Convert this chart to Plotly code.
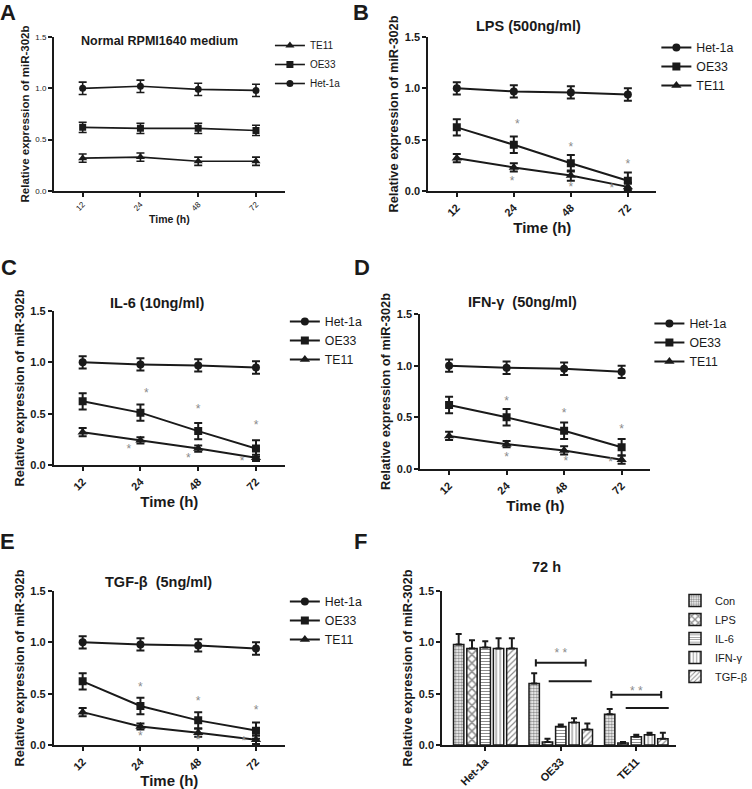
import plotly.graph_objects as go

W, H = 752, 789
FONT = "Arial, Liberation Sans, Helvetica, sans-serif"

# ---------------- data ----------------
times = ["12", "24", "48", "72"]
x_idx = [0, 1, 2, 3]
lines_names = ["Het-1a", "OE33", "TE11"]

# Panel A: Normal RPMI1640 medium
a_het = [1.00, 1.02, 0.99, 0.98]
a_het_err = [0.06, 0.06, 0.06, 0.06]
a_oe = [0.62, 0.61, 0.61, 0.59]
a_oe_err = [0.05, 0.05, 0.05, 0.05]
a_te = [0.32, 0.33, 0.29, 0.29]
a_te_err = [0.04, 0.04, 0.04, 0.04]

# Panel B: LPS
b_het = [1.00, 0.97, 0.96, 0.94]
b_het_err = [0.06, 0.06, 0.06, 0.06]
b_oe = [0.62, 0.45, 0.27, 0.10]
b_oe_err = [0.08, 0.08, 0.08, 0.08]
b_te = [0.32, 0.23, 0.15, 0.04]
b_te_err = [0.04, 0.04, 0.05, 0.04]
b_star_x = [1.06, 2.0, 3.0, 0.97, 2.0, 2.72]
b_star_y = [0.645, 0.42, 0.25, 0.09, 0.03, 0.02]

# Panel C: IL-6
c_het = [1.00, 0.98, 0.97, 0.95]
c_het_err = [0.06, 0.06, 0.06, 0.06]
c_oe = [0.62, 0.51, 0.33, 0.16]
c_oe_err = [0.08, 0.08, 0.08, 0.08]
c_te = [0.32, 0.24, 0.16, 0.07]
c_te_err = [0.04, 0.03, 0.03, 0.03]
c_star_x = [1.1, 2.0, 3.0, 0.8, 1.83, 2.76]
c_star_y = [0.69, 0.54, 0.38, 0.15, 0.055, 0.03]

# Panel D: IFN-gamma
d_het = [1.00, 0.98, 0.97, 0.94]
d_het_err = [0.06, 0.06, 0.06, 0.06]
d_oe = [0.62, 0.50, 0.37, 0.21]
d_oe_err = [0.08, 0.08, 0.08, 0.08]
d_te = [0.32, 0.24, 0.18, 0.09]
d_te_err = [0.04, 0.03, 0.04, 0.04]
d_star_x = [1.0, 2.0, 3.0, 1.0, 2.03, 2.81]
d_star_y = [0.65, 0.53, 0.38, 0.11, 0.07, 0.06]

# Panel E: TGF-beta
e_het = [1.00, 0.98, 0.97, 0.94]
e_het_err = [0.06, 0.06, 0.06, 0.06]
e_oe = [0.62, 0.38, 0.24, 0.14]
e_oe_err = [0.08, 0.08, 0.08, 0.08]
e_te = [0.32, 0.18, 0.12, 0.05]
e_te_err = [0.04, 0.03, 0.04, 0.04]
e_star_x = [1.0, 2.0, 3.0, 1.0, 2.0, 2.79]
e_star_y = [0.56, 0.42, 0.33, 0.075, 0.04, 0.03]

# Panel F: 72 h bars
groups = ["Het-1a", "OE33", "TE11"]
treatments = ["Con", "LPS", "IL-6", "IFN-γ", "TGF-β"]
f_con = [0.98, 0.60, 0.30]
f_con_err = [0.10, 0.10, 0.05]
f_lps = [0.94, 0.03, 0.02]
f_lps_err = [0.08, 0.03, 0.01]
f_il6 = [0.95, 0.18, 0.08]
f_il6_err = [0.06, 0.02, 0.02]
f_ifn = [0.94, 0.22, 0.10]
f_ifn_err = [0.10, 0.04, 0.02]
f_tgf = [0.94, 0.15, 0.06]
f_tgf_err = [0.10, 0.06, 0.06]
# significance brackets (x in category units)
br_x0 = [0.67, 1.67]
br_x1 = [1.33, 2.33]
br_y = [0.80, 0.49]
ln_x0 = [0.84, 1.86]
ln_x1 = [1.41, 2.43]
ln_y = [0.62, 0.36]
sig_groups = ["OE33", "TE11"]
sig_y = [0.89, 0.52]

y_ticks = [0, 0.5, 1.0, 1.5]
y_ticktext = ["0.0", "0.5", "1.0", "1.5"]

# ---------------- layout helpers ----------------
def dx(l, r):
    return [l / W, r / W]


def dy(top, bottom):
    return [1 - bottom / H, 1 - top / H]


panels = {
    1: dict(x=dx(54, 286), y=dy(37, 191)),
    2: dict(x=dx(430, 659), y=dy(37, 191)),
    3: dict(x=dx(54, 286), y=dy(311, 465)),
    4: dict(x=dx(422, 653), y=dy(314, 469)),
    5: dict(x=dx(54, 286), y=dy(591, 745)),
    6: dict(x=dx(444, 679), y=dy(591, 745)),
}

fig = go.Figure()

symbols = {"Het-1a": "circle", "OE33": "square", "TE11": "triangle-up"}
msize = {"Het-1a": 8, "OE33": 8, "TE11": 9}


def add_line_panel(i, data, order, small=False, stars=None):
    xa = "x" if i == 1 else f"x{i}"
    ya = "y" if i == 1 else f"y{i}"
    lg = "legend" if i == 1 else f"legend{i}"
    for name in order:
        vals, errs = data[name]
        fig.add_trace(go.Scatter(
            x=x_idx, y=vals, name=name, mode="lines+markers",
            xaxis=xa, yaxis=ya, legend=lg,
            line=dict(color="#1a1a1a", width=1.6 if small else 2),
            marker=dict(symbol=symbols[name], size=msize[name] - (1 if small else 0),
                        color="#1a1a1a"),
            error_y=dict(type="data", array=errs, visible=True, color="#1a1a1a",
                         thickness=1.6 if small else 2, width=4),
        ))
    if stars is not None:
        sx, sy = stars
        fig.add_trace(go.Scatter(
            x=sx, y=sy, mode="text", text=["*"] * len(sx), showlegend=False,
            xaxis=xa, yaxis=ya, hoverinfo="skip",
            textfont=dict(color="#8a8a8a", size=12, family=FONT),
        ))


add_line_panel(1, {"Het-1a": (a_het, a_het_err), "OE33": (a_oe, a_oe_err),
                   "TE11": (a_te, a_te_err)}, ["TE11", "OE33", "Het-1a"], small=True)
add_line_panel(2, {"Het-1a": (b_het, b_het_err), "OE33": (b_oe, b_oe_err),
                   "TE11": (b_te, b_te_err)}, lines_names, stars=(b_star_x, b_star_y))
add_line_panel(3, {"Het-1a": (c_het, c_het_err), "OE33": (c_oe, c_oe_err),
                   "TE11": (c_te, c_te_err)}, lines_names, stars=(c_star_x, c_star_y))
add_line_panel(4, {"Het-1a": (d_het, d_het_err), "OE33": (d_oe, d_oe_err),
                   "TE11": (d_te, d_te_err)}, lines_names, stars=(d_star_x, d_star_y))
add_line_panel(5, {"Het-1a": (e_het, e_het_err), "OE33": (e_oe, e_oe_err),
                   "TE11": (e_te, e_te_err)}, lines_names, stars=(e_star_x, e_star_y))

# Panel F bars
bar_data = [(f_con, f_con_err), (f_lps, f_lps_err), (f_il6, f_il6_err),
            (f_ifn, f_ifn_err), (f_tgf, f_tgf_err)]
patterns = [dict(shape=".", size=3, solidity=0.5),
            dict(shape="x", size=6, solidity=0.45),
            dict(shape="-", size=3, solidity=0.35),
            dict(shape="|", size=4, solidity=0.3),
            dict(shape="/", size=4, solidity=0.3)]
for tname, (vals, errs), pat in zip(treatments, bar_data, patterns):
    fig.add_trace(go.Bar(
        x=groups, y=vals, name=tname, xaxis="x6", yaxis="y6", legend="legend6",
        marker=dict(color="white", line=dict(color="#1a1a1a", width=1.5),
                    pattern=dict(fgcolor="#1a1a1a", bgcolor="white", **pat)),
        error_y=dict(type="data", array=errs, arrayminus=[0] * len(errs), symmetric=False,
                     visible=True, color="#1a1a1a", thickness=2, width=3),
    ))

for x0, x1, yv in zip(br_x0, br_x1, br_y):
    fig.add_shape(type="line", x0=x0, x1=x1, y0=yv, y1=yv, xref="x6", yref="y6",
                  line=dict(color="#1a1a1a", width=2))
    for xe in (x0, x1):
        fig.add_shape(type="line", x0=xe, x1=xe, y0=yv - 0.035, y1=yv + 0.035,
                      xref="x6", yref="y6", line=dict(color="#1a1a1a", width=2))
for x0, x1, yv in zip(ln_x0, ln_x1, ln_y):
    fig.add_shape(type="line", x0=x0, x1=x1, y0=yv, y1=yv, xref="x6", yref="y6",
                  line=dict(color="#1a1a1a", width=2))
fig.add_trace(go.Scatter(x=sig_groups, y=sig_y, mode="text", text=["* *"] * len(sig_groups),
                         showlegend=False, xaxis="x6", yaxis="y6", hoverinfo="skip",
                         textfont=dict(color="#8a8a8a", size=12, family=FONT)))

# ---------------- axes ----------------
layout = dict(
    width=W, height=H, margin=dict(l=0, r=0, t=0, b=0),
    paper_bgcolor="white", plot_bgcolor="white",
    font=dict(family=FONT, color="#1a1a1a"),
    barmode="group", bargap=0.12, bargroupgap=0.22,
)

for i, p in panels.items():
    small = (i == 1)
    xk = "xaxis" if i == 1 else f"xaxis{i}"
    yk = "yaxis" if i == 1 else f"yaxis{i}"
    anchor_x = "x" if i == 1 else f"x{i}"
    anchor_y = "y" if i == 1 else f"y{i}"
    tickfont = dict(size=8 if small else 11, family=FONT, color="#1a1a1a",
                    weight="normal" if small else "bold")
    common = dict(showline=True, linecolor="#1a1a1a", linewidth=1.5 if small else 2,
                  ticks="outside", ticklen=4, tickwidth=1.5, tickcolor="#1a1a1a",
                  showgrid=False, zeroline=False, automargin=False,
                  fixedrange=True)
    if i == 6:
        xax = dict(domain=p["x"], anchor=anchor_y, range=[-0.57, 2.53], type="category",
                   tickangle=-45, tickfont=dict(tickfont, size=11), **common)
    else:
        xax = dict(domain=p["x"], anchor=anchor_y, range=[-0.5, 3.5], tickvals=x_idx,
                   ticktext=times, tickangle=-45, tickfont=tickfont,
                   title=dict(text="<b>Time (h)</b>",
                              font=dict(size=10.5 if small else 15, family=FONT),
                              standoff=4),
                   **common)
    yax = dict(domain=p["y"], anchor=anchor_x, range=[0, 1.5], tickvals=y_ticks,
               ticktext=y_ticktext, tickfont=tickfont,
               title=dict(text="<b>Relative expression of miR-302b</b>",
                          font=dict(size=11.5 if small else 12.8, family=FONT),
                          standoff=3),
               **common)
    layout[xk] = xax
    layout[yk] = yax

# legends (text start x, first item center y, font size)
legend_pos = {1: (313, 46, 10), 2: (701, 48, 12.3), 3: (328, 322, 12.3),
              4: (694, 324, 12.3), 5: (328, 602, 12.3), 6: (720, 601, 11)}
for i, (tx, cy, fs) in legend_pos.items():
    key = "legend" if i == 1 else f"legend{i}"
    layout[key] = dict(x=(tx - 42) / W, y=1 - (cy - 15) / H, xanchor="left",
                       yanchor="top", bgcolor="rgba(0,0,0,0)", borderwidth=0,
                       font=dict(size=fs, family=FONT, color="#1a1a1a"),
                       tracegroupgap=0, itemclick=False, itemdoubleclick=False)

fig.update_layout(**layout)

# titles and panel labels
titles = [("<b>Normal RPMI1640 medium</b>", 79, 41, 12.5, "left"),
          ("<b>LPS (500ng/ml)</b>", 531, 26, 14.5, "center"),
          ("<b>IL-6 (10ng/ml)</b>", 158, 303, 14.5, "center"),
          ("<b>IFN-γ  (50ng/ml)</b>", 525, 302, 14.5, "center"),
          ("<b>TGF-β  (5ng/ml)</b>", 159, 582, 14.5, "center"),
          ("<b>72 h</b>", 549, 567, 14.5, "center")]
for text, px, py, fs, anc in titles:
    fig.add_annotation(text=text, x=px / W, y=1 - py / H, xref="paper", yref="paper",
                       xanchor=anc, yanchor="middle", showarrow=False,
                       font=dict(size=fs, family=FONT, color="#1a1a1a"))

labels = [("A", 8, 12), ("B", 362, 12), ("C", 9, 268), ("D", 363, 267),
          ("E", 8, 541), ("F", 362, 541)]
for text, px, py in labels:
    fig.add_annotation(text=f"<b>{text}</b>", x=px / W, y=1 - py / H, xref="paper",
                       yref="paper", xanchor="center", yanchor="middle", showarrow=False,
                       font=dict(size=22, family=FONT, color="#1a1a1a"))

# the page body has a default 8px margin; remove it so the figure fills the window
fig.write_html("out.html", config={"displayModeBar": False},
               post_script="document.body.style.margin='0';")
